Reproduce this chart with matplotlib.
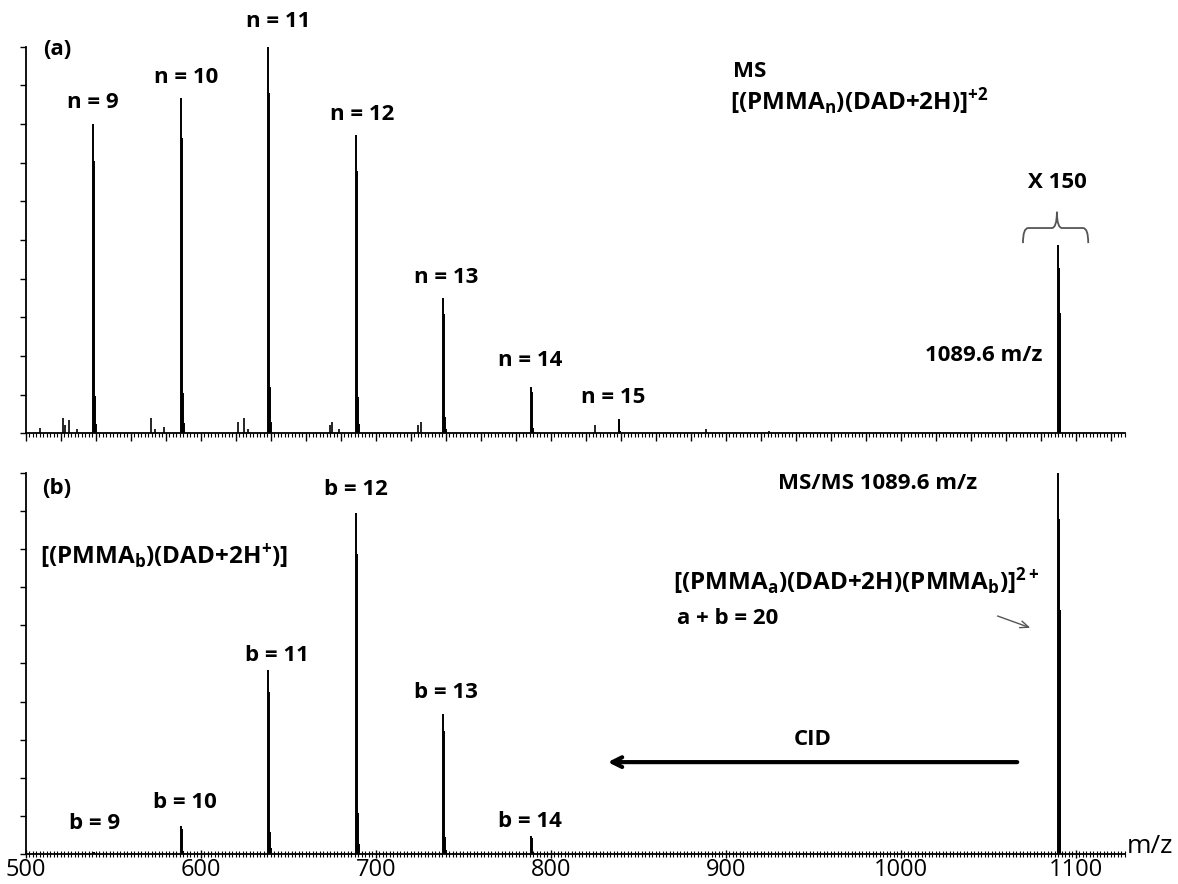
import matplotlib.pyplot as plt
from matplotlib.ticker import MultipleLocator
from matplotlib.path import Path
from matplotlib.patches import PathPatch

plt.rcParams["font.family"] = ["Open Sans", "DejaVu Sans"]
plt.rcParams["mathtext.fontset"] = "custom"
plt.rcParams["mathtext.bf"] = "Open Sans:bold"
plt.rcParams["mathtext.rm"] = "Open Sans"

# --------------------------------------------------------------
# Data (m/z, relative intensity 0..1)
# --------------------------------------------------------------
iso_offset = [0.0, 0.5, 1.0, 1.5]
iso_rel_oligo = [1.0, 0.88, 0.12, 0.03]
iso_rel_prec = [1.0, 0.88, 0.64, 0.14]

ms_mz = [538.6, 588.6, 638.6, 688.6, 738.6, 788.6, 838.6]
ms_int = [0.80, 0.868, 1.0, 0.772, 0.35, 0.12, 0.036]
ms_labels = ["n = 9", "n = 10", "n = 11", "n = 12", "n = 13", "n = 14", "n = 15"]
ms_label_x = [538.3, 591.4, 644.0, 692.0, 740.0, 788.0, 835.4]
ms_label_y = [0.855, 0.92, 1.065, 0.824, 0.404, 0.189, 0.093]

prec_mz = 1089.6
prec_int_ms = 0.487      # shown x150
prec_int_msms = 1.0

ms_minor_mz = [508.0, 521.0, 522.2, 524.6, 529.0, 571.4, 574.0, 579.0,
               621.0, 624.6, 627.0, 673.7, 675.0, 679.0, 724.0, 725.5,
               825.0, 888.6, 924.6]
ms_minor_int = [0.014, 0.04, 0.02, 0.034, 0.012, 0.04, 0.01, 0.015,
                0.03, 0.04, 0.01, 0.02, 0.03, 0.01, 0.02, 0.03,
                0.02, 0.01, 0.006]

msms_mz = [538.6, 588.6, 638.6, 688.6, 738.6, 788.6]
msms_int = [0.005, 0.073, 0.482, 0.896, 0.368, 0.047]
msms_labels = ["b = 9", "b = 10", "b = 11", "b = 12", "b = 13", "b = 14"]
msms_label_x = [539.4, 590.9, 643.4, 688.6, 740.0, 788.0]
msms_label_y = [0.08, 0.135, 0.52, 0.956, 0.425, 0.085]


def draw_cluster(ax, mz, h, rel):
    xs = [mz + o for o in iso_offset]
    hs = [h * r for r in rel]
    ax.vlines(xs, 0, hs, color="black", lw=1.4)


def style_axis(ax):
    ax.set_xlim(500, 1128)
    ax.set_ylim(0, 1)
    ax.spines["top"].set_visible(False)
    ax.spines["right"].set_visible(False)
    ax.spines["left"].set_linewidth(1.3)
    ax.spines["bottom"].set_linewidth(1.3)
    ax.yaxis.set_major_locator(MultipleLocator(0.1))
    ax.tick_params(axis="y", length=4, width=1, labelleft=False)
    ax.xaxis.set_minor_locator(MultipleLocator(2))


fig = plt.figure(figsize=(11.78, 8.84), dpi=100)
ax1 = fig.add_axes([0.022, 0.510, 0.933, 0.437])
ax2 = fig.add_axes([0.022, 0.034, 0.933, 0.431])

fs = 16
tk = dict(fontsize=fs, fontweight="bold")
mk = dict(fontsize=17.5, fontweight="bold")

# --------------------------------------------------------------
# (a) MS
# --------------------------------------------------------------
style_axis(ax1)
ax1.xaxis.set_major_locator(MultipleLocator(20))
ax1.tick_params(axis="x", which="major", length=6, width=1, labelbottom=False)
ax1.tick_params(axis="x", which="minor", length=3, width=0.8)

ax1.vlines(ms_minor_mz, 0, ms_minor_int, color="black", lw=1.2)
for mz, h in zip(ms_mz, ms_int):
    draw_cluster(ax1, mz, h, iso_rel_oligo)
draw_cluster(ax1, prec_mz, prec_int_ms, iso_rel_prec)

for lab, x, y in zip(ms_labels, ms_label_x, ms_label_y):
    ax1.text(x, y, lab, ha="center", va="center", clip_on=False, **tk)

ax1.text(517.7, 0.992, "(a)", ha="center", va="center", **tk)
ax1.text(904, 0.935, "MS", ha="left", va="center", **tk)
ax1.text(902.3, 0.86, r"$\mathbf{[(PMMA_n)(DAD{+}2H)]^{+2}}$", ha="left", va="center", **mk)
ax1.text(1089.1, 0.648, "X 150", ha="center", va="center", **tk)
ax1.text(1081, 0.202, "1089.6 m/z", ha="right", va="center", **tk)

# curly brace over the x150 peak
xl, xc, xr = 1069.7, 1089.1, 1107.0
yb, yh, yt = 0.492, 0.531, 0.573
verts = [(xl, yb), (xl, yh), (xl + 3, yh), (xc - 3, yh), (xc, yh), (xc, yt),
         (xc, yh), (xc + 3, yh), (xr - 3, yh), (xr, yh), (xr, yb)]
codes = [Path.MOVETO, Path.CURVE3, Path.CURVE3, Path.LINETO, Path.CURVE3, Path.CURVE3,
         Path.CURVE3, Path.CURVE3, Path.LINETO, Path.CURVE3, Path.CURVE3]
ax1.add_patch(PathPatch(Path(verts, codes), fill=False, edgecolor="#555555", lw=1.3,
                        clip_on=False))

# --------------------------------------------------------------
# (b) MS/MS
# --------------------------------------------------------------
style_axis(ax2)
ax2.xaxis.set_major_locator(MultipleLocator(100))
ax2.tick_params(axis="x", which="major", length=6, width=1, direction="inout",
                labelsize=17, pad=0)
ax2.tick_params(axis="x", which="minor", length=4, width=0.8, direction="inout")

for mz, h in zip(msms_mz, msms_int):
    draw_cluster(ax2, mz, h, iso_rel_oligo)
draw_cluster(ax2, prec_mz, prec_int_msms, iso_rel_prec)

for lab, x, y in zip(msms_labels, msms_label_x, msms_label_y):
    ax2.text(x, y, lab, ha="center", va="center", **tk)

ax2.text(517.7, 0.96, "(b)", ha="center", va="center", **tk)
ax2.text(929.7, 0.971, "MS/MS 1089.6 m/z", ha="left", va="center", **tk)
ax2.text(508, 0.782, r"$\mathbf{[(PMMA_b)(DAD{+}2H^{+})]}$", ha="left", va="center", **mk)
ax2.text(869.7, 0.715, r"$\mathbf{[(PMMA_a)(DAD{+}2H)(PMMA_b)]^{2+}}$", ha="left",
         va="center", **mk)
ax2.text(872, 0.619, "a + b = 20", ha="left", va="center", **tk)
ax2.annotate("", xy=(1075.4, 0.591), xytext=(1053.7, 0.627),
             arrowprops=dict(arrowstyle="->,head_width=0.25,head_length=0.6",
                             color="#555555", lw=1.0))

ax2.text(949.7, 0.30, "CID", ha="center", va="center", **tk)
ax2.annotate("", xy=(830.9, 0.241), xytext=(1068.0, 0.241),
             arrowprops=dict(arrowstyle="->,head_width=0.35,head_length=0.7",
                             color="black", lw=3))

ax2.text(1.002, 0.02, "m/z", transform=ax2.transAxes, ha="left", va="center",
         fontsize=19)

fig.savefig("out.png", dpi=100, facecolor="white")
